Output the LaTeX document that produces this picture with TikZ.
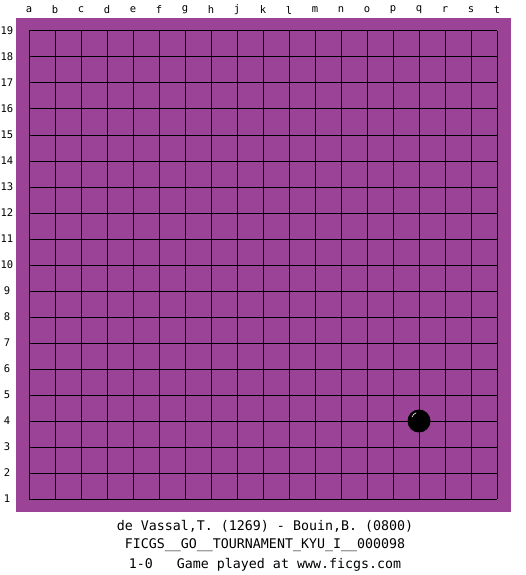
\documentclass[tikz,border=0pt]{standalone}
\usepackage{fontspec}
\setmainfont{DejaVu Sans Mono}
\usepackage{tikz}
\definecolor{boardcol}{RGB}{155,67,150}

\begin{document}
\begin{tikzpicture}[x=1pt,y=-1pt]
    \useasboundingbox (0,0) rectangle (525,575);
    % Draw board background
    \fill[boardcol] (16,18) rectangle (511,512);
    % Draw grid lines
    \foreach \i in {0,...,18} {
        \draw[line width=1pt] (29+26*\i,31) -- (29+26*\i,499);
        \draw[line width=1pt] (29,31+26*\i) -- (497,31+26*\i);
    }
    % Draw column letters
    \foreach \c [count=\i from 0] in {a,b,c,d,e,f,g,h,j,k,l,m,n,o,p,q,r,s,t} {
        \node[font=\fontsize{10.5}{12}\selectfont] (col\c) at (29+26*\i,10) {\c};
    }
    % Draw row numbers
    \foreach \r in {1,...,19} {
        \node[font=\fontsize{10.5}{12}\selectfont] (row\r) at (7,31+26*19-26*\r) {\r};
    }
    % Draw black stone at q4
    \fill (419,421) circle (11.5);
    \draw[white,line width=0.6pt] (412,417) arc (200:250:7);
    % Draw game info
    \node[font=\fontsize{13.3}{16}\selectfont] (players) at (265,526) {de Vassal,T. (1269) - Bouin,B. (0800)};
    \node[font=\fontsize{13.3}{16}\selectfont] (event) at (265,545) {FICGS\_\_GO\_\_TOURNAMENT\_KYU\_I\_\_000098};
    \node[font=\fontsize{13.3}{16}\selectfont] (result) at (265,565) {1-0\ \ \ Game played at www.ficgs.com};
\end{tikzpicture}
\end{document}
